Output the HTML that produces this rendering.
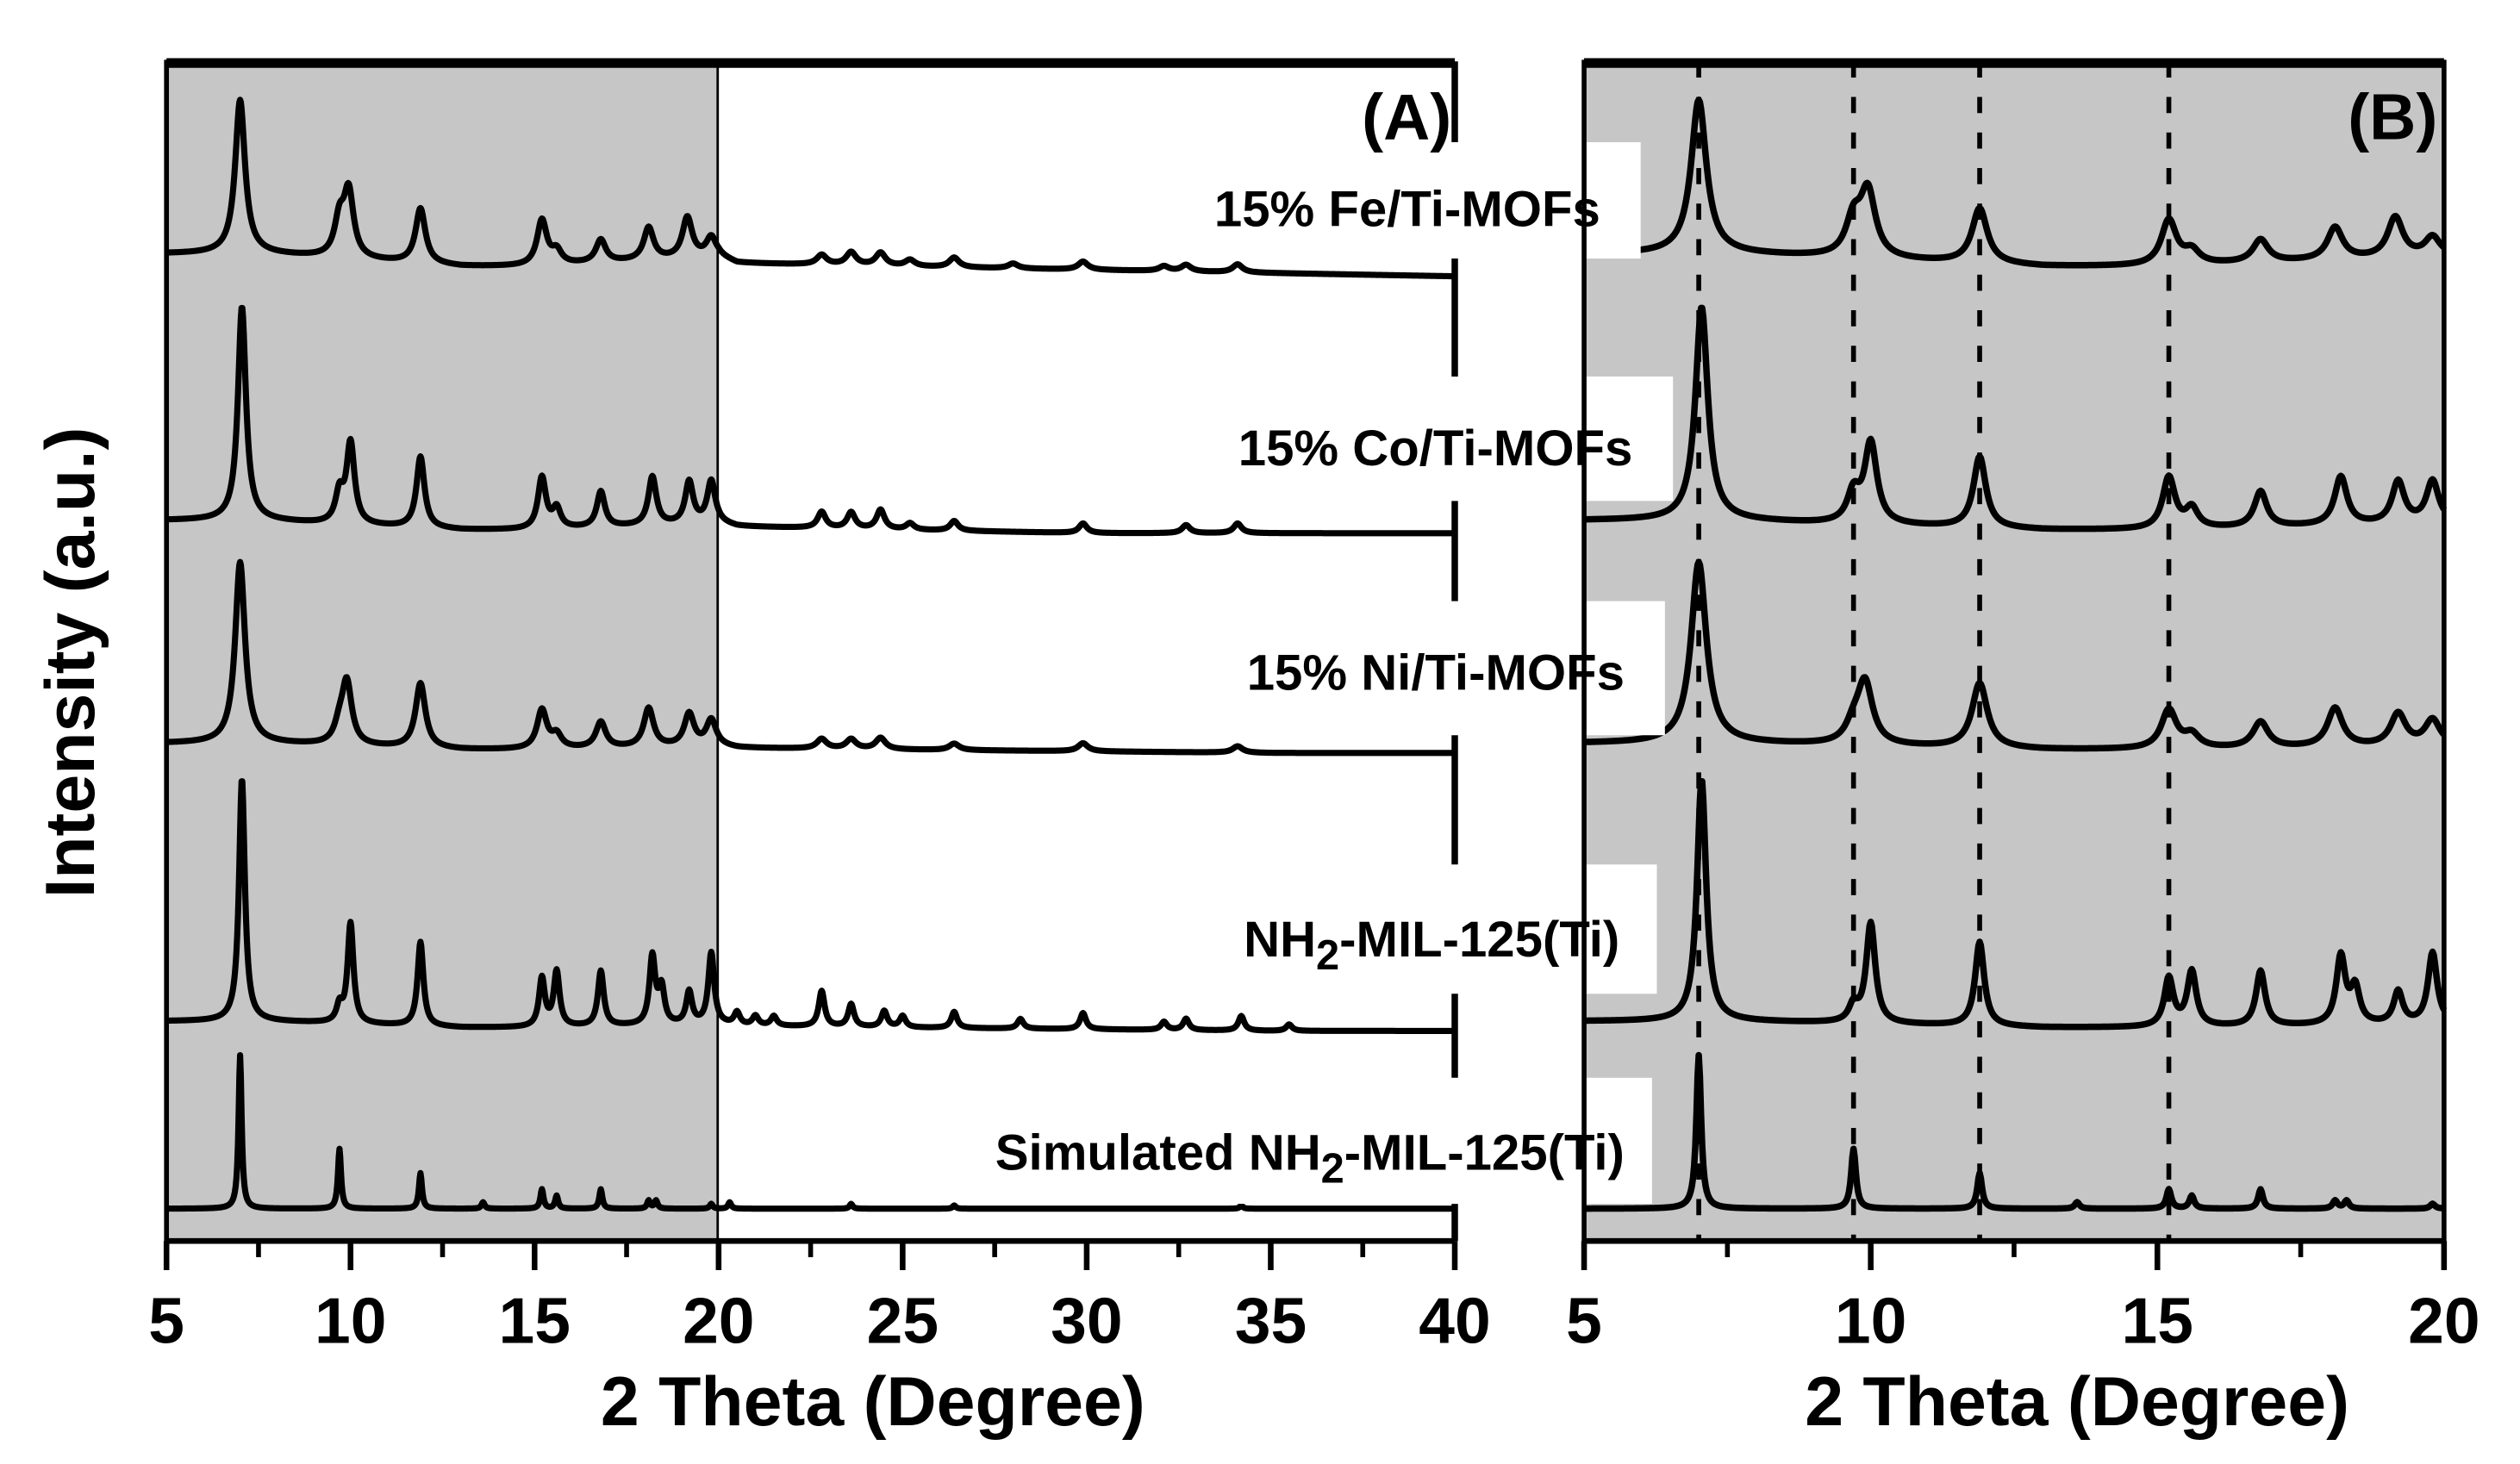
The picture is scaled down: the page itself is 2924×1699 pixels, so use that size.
<!DOCTYPE html>
<html><head><meta charset="utf-8"><style>
html,body{margin:0;padding:0;background:#fff}
svg{display:block}
text{font-family:"Liberation Sans",Arial,sans-serif;font-weight:bold;fill:#000}
</style></head><body>
<svg id="chart" width="2924" height="1699" viewBox="0 0 1559 906" preserveAspectRatio="none" xmlns="http://www.w3.org/2000/svg">
<rect x="0" y="0" width="1559" height="906" fill="#fff"/>
<rect x="103" y="38" width="341" height="730" fill="#c6c6c6"/>
<rect x="980" y="38" width="532" height="730" fill="#c6c6c6"/>
<g id="dashes"></g>
<g id="curves"></g>
<g id="labels"></g>
<g id="axes"></g>
<text x="898" y="86" text-anchor="end" font-size="40">(A)</text>
<text x="1508" y="86" text-anchor="end" font-size="40">(B)</text>
<text x="540" y="882" text-anchor="middle" font-size="43">2 Theta (Degree)</text>
<text x="1285" y="882" text-anchor="middle" font-size="43">2 Theta (Degree)</text>
<text transform="translate(58,410) rotate(-90)" text-anchor="middle" font-size="43">Intensity (a.u.)</text>
</svg>
<script>
const seriesNames = ["Fe", "Co", "Ni", "NH2", "Sim"];
const labelTexts = ["15% Fe/Ti-MOFs", "15% Co/Ti-MOFs", "15% Ni/Ti-MOFs", "NH2-MIL-125(Ti)", "Simulated NH2-MIL-125(Ti)"];
const offsets = [157, 322, 460, 632, 748];
const baseAngles = [5, 7.5, 9, 13, 15, 20, 20.5, 25, 30, 35, 40];
const baseFe  = [0, 0, -2, -8, -8, -2, -6, -8, -10, -12, -14];
const baseCo  = [0, 0, -2, -6, -6, -2, -4, -6, -8, -8, -8];
const baseNi  = [0, 0, -1, -4, -4, -2, -3, -4, -5, -6, -6];
const baseNH2 = [0, 0, -1, -4, -4, -2, -3, -4, -5, -6, -6];
const baseSim = [0, 0, 0, 0, 0, 0, 0, 0, 0, 0, 0];
const bases = [baseFe, baseCo, baseNi, baseNH2, baseSim];
const posFe = [7.0, 9.7, 9.95, 11.9, 15.2, 15.6, 16.8, 18.1, 19.15, 19.8, 22.8, 23.6, 24.4, 25.2, 26.4, 28.0, 29.9, 32.1, 32.7, 34.1];
const intFe = [95, 22, 40, 34, 28, 8, 14, 20, 25, 12, 6, 8, 8, 4, 6, 3, 5, 3, 4, 5];
const posCo = [7.05, 9.7, 10.0, 11.9, 15.2, 15.6, 16.8, 18.2, 19.2, 19.8, 22.8, 23.6, 24.4, 25.2, 26.4, 29.9, 32.7, 34.1];
const intCo = [132, 18, 50, 44, 32, 12, 22, 30, 26, 26, 10, 10, 12, 4, 6, 6, 5, 6];
const posNi = [7.0, 9.7, 9.9, 11.9, 15.2, 15.6, 16.8, 18.1, 19.2, 19.8, 22.8, 23.6, 24.4, 26.4, 29.9, 34.1];
const intNi = [112, 10, 38, 40, 24, 8, 16, 24, 20, 16, 6, 6, 7, 4, 5, 4];
const posNH2 = [7.05, 9.7, 10.0, 11.9, 15.2, 15.6, 16.8, 18.2, 18.45, 19.2, 19.8, 20.5, 21.0, 21.5, 22.8, 23.6, 24.5, 25.0, 26.4, 28.2, 29.9, 32.1, 32.7, 34.2, 35.5];
const intNH2 = [150, 10, 62, 52, 30, 34, 34, 42, 22, 20, 44, 8, 6, 6, 22, 14, 10, 7, 10, 6, 10, 5, 7, 9, 4];
const posSim = [7.0, 9.7, 11.9, 13.6, 15.2, 15.6, 16.8, 18.1, 18.3, 19.8, 20.3, 23.6, 26.4, 34.2];
const intSim = [95, 37, 22, 4, 12, 8, 12, 5, 5, 3, 4, 3, 2, 2];
const peakPos = [posFe, posCo, posNi, posNH2, posSim];
const peakInt = [intFe, intCo, intNi, intNH2, intSim];
const widths = [0.16, 0.13, 0.16, 0.095, 0.05];
const dashAngles = [7.0, 9.7, 11.9, 15.2];
const ticksA = [5, 10, 15, 20, 25, 30, 35, 40];
const ticksB = [5, 10, 15, 20];

const NS = "http://www.w3.org/2000/svg";
const xA = a => 103 + (a - 5) * (900 - 103) / 35;
const xB = a => 980 + (a - 5) * (1512 - 980) / 15;
function mk(tag, attrs, parent) {
  const e = document.createElementNS(NS, tag);
  for (const k in attrs) e.setAttribute(k, attrs[k]);
  parent.appendChild(e);
  return e;
}
function baseAt(b, a) {
  for (let i = 0; i < baseAngles.length - 1; i++) {
    if (a >= baseAngles[i] && a <= baseAngles[i + 1]) {
      const t = (a - baseAngles[i]) / (baseAngles[i + 1] - baseAngles[i]);
      return b[i] + t * (b[i + 1] - b[i]);
    }
  }
  return b[b.length - 1];
}
function intensity(s, a) {
  let v = baseAt(bases[s], a);
  const w = widths[s];
  for (let i = 0; i < peakPos[s].length; i++) {
    const d = (a - peakPos[s][i]) / w;
    v += peakInt[s][i] / (1 + d * d);
  }
  return offsets[s] - v;
}
const dashes = document.getElementById('dashes');
dashAngles.forEach(a => {
  const l = mk('line', {x1: xB(a), x2: xB(a), y1: 38, y2: 768, stroke: '#000', 'stroke-width': 3, 'stroke-dasharray': '10,12'}, dashes);
  
  
});
const curves = document.getElementById('curves');
for (let s = 0; s < seriesNames.length; s++) {
  let dA = '', dB = '';
  for (let a = 5; a <= 40.0001; a += 0.02) {
    const y = intensity(s, a).toFixed(2);
    dA += (dA ? 'L' : 'M') + xA(a).toFixed(2) + ',' + y;
    if (a <= 20.0001) dB += (dB ? 'L' : 'M') + xB(a).toFixed(2) + ',' + y;
  }
  const pa = mk('path', {d: dA, fill: 'none', stroke: '#000', 'stroke-width': 3.8, 'stroke-linejoin': 'round'}, curves);
  
  
  const pb = mk('path', {d: dB, fill: 'none', stroke: '#000', 'stroke-width': 4, 'stroke-linejoin': 'round'}, curves);
  
  
}
const labels = document.getElementById('labels');
const boxes = [[88, 160, 1015, 990, 140], [233, 310, 1035, 1010, 288], [372, 455, 1030, 1005, 427], [535, 615, 1025, 1002, 592], [667, 745, 1022, 1005, 724]];
for (let s = 0; s < labelTexts.length; s++) {
  const b = boxes[s];
  const r = mk('rect', {x: 700, y: b[0], width: b[2] - 700, height: b[1] - b[0], fill: '#fff'}, labels);
  
  
  const t = mk('text', {x: b[3], y: b[4], 'text-anchor': 'end', 'font-size': 31}, labels);
  
  
  const txt = labelTexts[s];
  if (txt.indexOf('NH2') >= 0) {
    const parts = txt.split('NH2');
    t.appendChild(document.createTextNode(parts[0] + 'NH'));
    const sub = mk('tspan', {dy: 8, 'font-size': 26}, t);
    sub.textContent = '2';
    const rest = mk('tspan', {dy: -8}, t);
    rest.textContent = parts[1];
  } else t.textContent = txt;
}
const axes = document.getElementById('axes');
function frame(x0, x1, name) {
  const g = mk('g', {}, axes);
  
  
  mk('line', {x1: x0, x2: x1, y1: 39, y2: 39, stroke: '#000', 'stroke-width': 6}, g);
  mk('line', {x1: x0, x2: x1, y1: 768, y2: 768, stroke: '#000', 'stroke-width': 3.5}, g);
  mk('line', {x1: x0, x2: x0, y1: 37, y2: 770, stroke: '#000', 'stroke-width': 3}, g);
  return g;
}
const gA = frame(103, 900, 'panel-a-frame');
mk('line', {x1: 444, x2: 444, y1: 38, y2: 768, stroke: '#000', 'stroke-width': 1.5}, gA);
[[38, 88], [160, 233], [310, 372], [455, 535], [615, 667], [745, 768]].forEach(seg => mk('line', {x1: 900, x2: 900, y1: seg[0], y2: seg[1], stroke: '#000', 'stroke-width': 4}, gA));
const gB = frame(980, 1512, 'panel-b-frame');
mk('line', {x1: 1512, x2: 1512, y1: 37, y2: 770, stroke: '#000', 'stroke-width': 3}, gB);
function ticks(list, fx, name) {
  const g = mk('g', {}, axes);
  
  
  for (let i = 0; i < list.length; i++) {
    const x = fx(list[i]);
    mk('line', {x1: x, x2: x, y1: 768, y2: 786, stroke: '#000', 'stroke-width': 3.5}, g);
    const t = mk('text', {x: x, y: 831, 'text-anchor': 'middle', 'font-size': 40}, g);
    t.textContent = list[i];
    if (i < list.length - 1) {
      const xm = fx((list[i] + list[i + 1]) / 2);
      mk('line', {x1: xm, x2: xm, y1: 768, y2: 778, stroke: '#000', 'stroke-width': 3}, g);
    }
  }
}
ticks(ticksA, xA, 'x-axis-ticks-a');
ticks(ticksB, xB, 'x-axis-ticks-b');
</script>
</body></html>
